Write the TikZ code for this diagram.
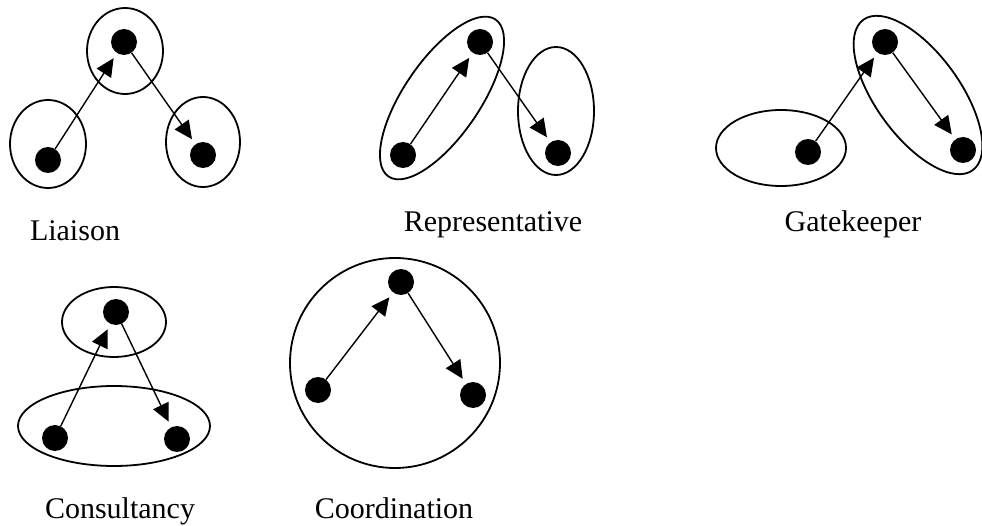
\documentclass[tikz,border=0pt]{standalone}
\usepackage{fontspec}
\setmainfont{Liberation Serif}
\usetikzlibrary{arrows.meta}
\begin{document}
\begin{tikzpicture}[x=1pt,y=-1pt,
  dot/.style={circle,fill=black,inner sep=0pt,minimum size=26pt},
  group/.style={draw=black,line width=1.8pt},
  link/.style={draw=black,line width=1.4pt,shorten >=6pt,-{Triangle[length=18pt,width=17pt]}},
  lbl/.style={font=\fontsize{30}{32}\selectfont,anchor=base,inner sep=0pt}]
\useasboundingbox (0,0) rectangle (982,526);

% Liaison
\draw[group] (125,51) ellipse [x radius=38pt, y radius=43pt];
\draw[group] (48,144) ellipse [x radius=38pt, y radius=44pt];
\draw[group] (203,142) ellipse [x radius=37pt, y radius=45pt];
\node[dot] (l1) at (48,160) {};
\node[dot] (l2) at (124,42) {};
\node[dot] (l3) at (203,155) {};
\draw[link] (l1) -- (l2);
\draw[link] (l2) -- (l3);
\node[lbl] (tl) at (75,241) {Liaison};

% Representative
\draw[group, rotate around={55.7:(442,98)}] (442,98) ellipse [x radius=95pt, y radius=38pt];
\draw[group] (556,111) ellipse [x radius=38pt, y radius=64pt];
\node[dot] (r1) at (403,155) {};
\node[dot] (r2) at (480,42) {};
\node[dot] (r3) at (558,153) {};
\draw[link] (r1) -- (r2);
\draw[link] (r2) -- (r3);
\node[lbl] (tr) at (493,232) {Representative};

% Gatekeeper
\draw[group] (781,148) ellipse [x radius=65pt, y radius=38pt];
\draw[group, rotate around={-54:(918,95)}] (918,95) ellipse [x radius=93pt, y radius=42pt];
\node[dot] (g1) at (808,152) {};
\node[dot] (g2) at (885,42) {};
\node[dot] (g3) at (963,150) {};
\draw[link] (g1) -- (g2);
\draw[link] (g2) -- (g3);
\node[lbl] (tg) at (853,232) {Gatekeeper};

% Consultancy
\draw[group] (114,322) ellipse [x radius=52pt, y radius=35pt];
\draw[group] (114,426) ellipse [x radius=96pt, y radius=40pt];
\node[dot] (c1) at (55,438) {};
\node[dot] (c2) at (116,312) {};
\node[dot] (c3) at (177,439) {};
\draw[link] (c1) -- (c2);
\draw[link] (c2) -- (c3);
\node[lbl] (tc) at (120,518) {Consultancy};

% Coordination
\draw[group] (395,363) circle [radius=105pt];
\node[dot] (o1) at (318,390) {};
\node[dot] (o2) at (401,282) {};
\node[dot] (o3) at (473,395) {};
\draw[link] (o1) -- (o2);
\draw[link] (o2) -- (o3);
\node[lbl] (to) at (394,518) {Coordination};
\end{tikzpicture}
\end{document}
